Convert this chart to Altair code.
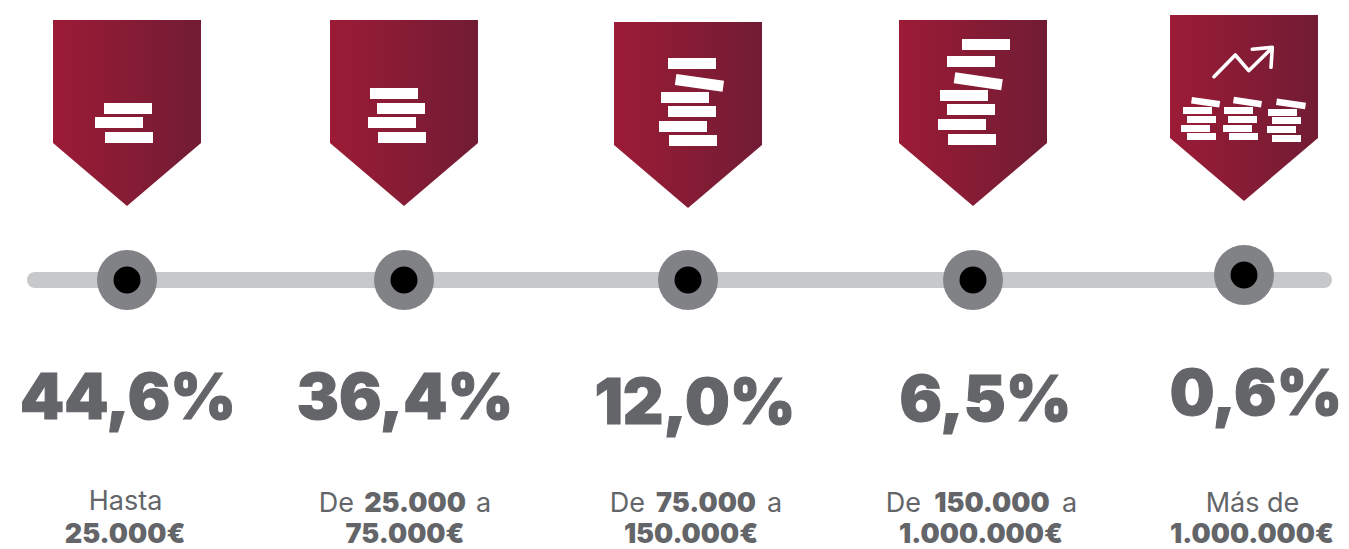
import altair as alt
import pandas as pd

# ---------- content ----------
shares = ["44,6%", "36,4%", "12,0%", "6,5%", "0,6%"]
share_x = [128, 405, 695, 985.5, 1256]
share_base = [419, 419, 424, 421, 415]

centers = [127, 404, 688, 973, 1244]
tops = [20, 20, 22, 20, 15]
dot_y = [280, 280, 280, 280, 275]

regular_text = [("Hasta", 125.5, 510, "center"),
                ("De", 354, 511.5, "right"), ("a", 476, 511.5, "left"),
                ("De", 645, 512, "right"), ("a", 767, 512, "left"),
                ("De", 921, 512, "right"), ("a", 1062, 512, "left"),
                ("Más de", 1252.5, 512, "center")]
bold_text = [("25.000€", 125, 543), ("25.000", 415, 511.5), ("75.000€", 405, 543),
             ("75.000", 706, 512), ("150.000€", 691, 543),
             ("150.000", 992, 512), ("1.000.000€", 981, 543),
             ("1.000.000€", 1252, 543)]

# flat coin bars: x, x2, y, y2
flat_bars = [
    (104,152,103,114),(95,143,117,128),(105,153,132,143),
    (370,418,88,99),(377,425,103,114),(368,416,117,128),(378,426,132,143),
    (668,716,58,69),(661,709,92,103),(668,716,106,117),(659,707,121,132),(669,717,135,146),
    (962,1010,39,50),(947,995,56,67),(940,988,90,101),(947,995,104,115),(938,986,119,130),(948,996,134,145),
    (1183,1212,107,114),(1187,1216,116,123),(1181,1210,125,132),(1187,1216,133,140),
    (1224,1253,107,114),(1228,1257,116,123),(1223,1252,125,132),(1229,1258,133,140),
    (1268,1297,109,116),(1272,1301,117,124),(1267,1296,126,133),(1272,1301,135,142),
]
# tilted bars: x1, y1, x2, y2
tilted_big = [(675.6,79.5,723.3,86.2),(954.5,77.8,1002,84.7)]
tilted_small = [(1191.5,100.2,1219.7,104.3),(1233.5,100,1261.5,104.3),(1276.5,101.7,1305.5,106)]
arrow_lines = [[(1214,76.7),(1235.3,55),(1248.7,70.7),(1271.7,48.3)],
               [(1252.3,49.3),(1272.3,47.3),(1271,67.3)]]
track = [27, 1332]
track_y = 280

INK = "#636569"
SANS = "Inter"

# ---------- tables ----------
W, H = 1333, 533
X = alt.X("x:Q", scale=alt.Scale(domain=[8, 8 + W], nice=False, zero=False), axis=None)
Y = alt.Y("y:Q", scale=alt.Scale(domain=[8, 8 + H], nice=False, zero=False, reverse=True), axis=None)

tags = pd.DataFrame([
    {"id": i, "x": c + dx, "y": t, "y2": t + off}
    for i, (c, t) in enumerate(zip(centers, tops))
    for dx, off in [(-74, 123), (0, 186), (74, 123)]
])
tag = alt.Chart(tags).mark_area(
    interpolate="linear",
    color=alt.Gradient(gradient="linear", x1=0, x2=1, y1=0, y2=0,
                       stops=[alt.GradientStop(color="#9c1b36", offset=0),
                              alt.GradientStop(color="#711c34", offset=1)]),
).encode(x=X, y=Y, y2="y2:Q", detail="id:N")

bars = alt.Chart(pd.DataFrame(flat_bars, columns=["x", "x2", "y", "y2"])).mark_rect(color="white").encode(
    x=X, x2="x2:Q", y=Y, y2="y2:Q")

def segs(rows):
    return pd.DataFrame([{"id": i, "o": k, "x": p[0], "y": p[1]}
                         for i, r in enumerate(rows) for k, p in enumerate(r)])

tilt_big = alt.Chart(segs([[(a, b), (c, d)] for a, b, c, d in tilted_big])).mark_line(
    color="white", strokeWidth=11).encode(x=X, y=Y, detail="id:N", order="o:Q")
tilt_small = alt.Chart(segs([[(a, b), (c, d)] for a, b, c, d in tilted_small])).mark_line(
    color="white", strokeWidth=6.5).encode(x=X, y=Y, detail="id:N", order="o:Q")
arrow = alt.Chart(segs(arrow_lines)).mark_line(
    color="white", strokeWidth=3.6, strokeCap="round", strokeJoin="round").encode(
    x=X, y=Y, detail="id:N", order="o:Q")

track_line = alt.Chart(pd.DataFrame({"x": [track[0] + 8, track[1] - 8], "y": [track_y] * 2})).mark_line(
    color="#c7c8ca", strokeWidth=16, strokeCap="round").encode(x=X, y=Y)

dots = pd.DataFrame({"x": centers, "y": dot_y})
outer = alt.Chart(dots).mark_circle(color="#808285", opacity=1, size=3600).encode(x=X, y=Y)
inner = alt.Chart(dots).mark_circle(color="#000000", opacity=1, size=729).encode(x=X, y=Y)

pct = alt.Chart(pd.DataFrame({"x": share_x, "y": share_base, "t": shares})).mark_text(
    font=SANS, fontWeight=900, fontSize=63, color=INK, align="center", baseline="alphabetic",
    stroke=INK, strokeWidth=1).encode(x=X, y=Y, text="t:N")

reg = pd.DataFrame(regular_text, columns=["t", "x", "y", "a"])
reg_layers = [
    alt.Chart(reg[reg.a == a]).mark_text(font=SANS, fontWeight=400, fontSize=27, color=INK,
                                         align=a, baseline="alphabetic").encode(x=X, y=Y, text="t:N")
    for a in ["left", "center", "right"]
]
bold = alt.Chart(pd.DataFrame(bold_text, columns=["t", "x", "y"])).mark_text(
    font=SANS, fontWeight=900, fontSize=27, color=INK, align="center", baseline="alphabetic").encode(
    x=X, y=Y, text="t:N")

chart = alt.layer(track_line, outer, inner, tag, bars, tilt_big, tilt_small, arrow, pct, *reg_layers, bold).properties(
    width=W, height=H, padding={"left": 0, "top": 0, "right": 0, "bottom": 8},
    autosize=alt.AutoSizeParams(type="none"),
).configure_view(stroke=None, clip=False)

chart.save("out.html", embed_options={"renderer": "svg", "actions": False})
